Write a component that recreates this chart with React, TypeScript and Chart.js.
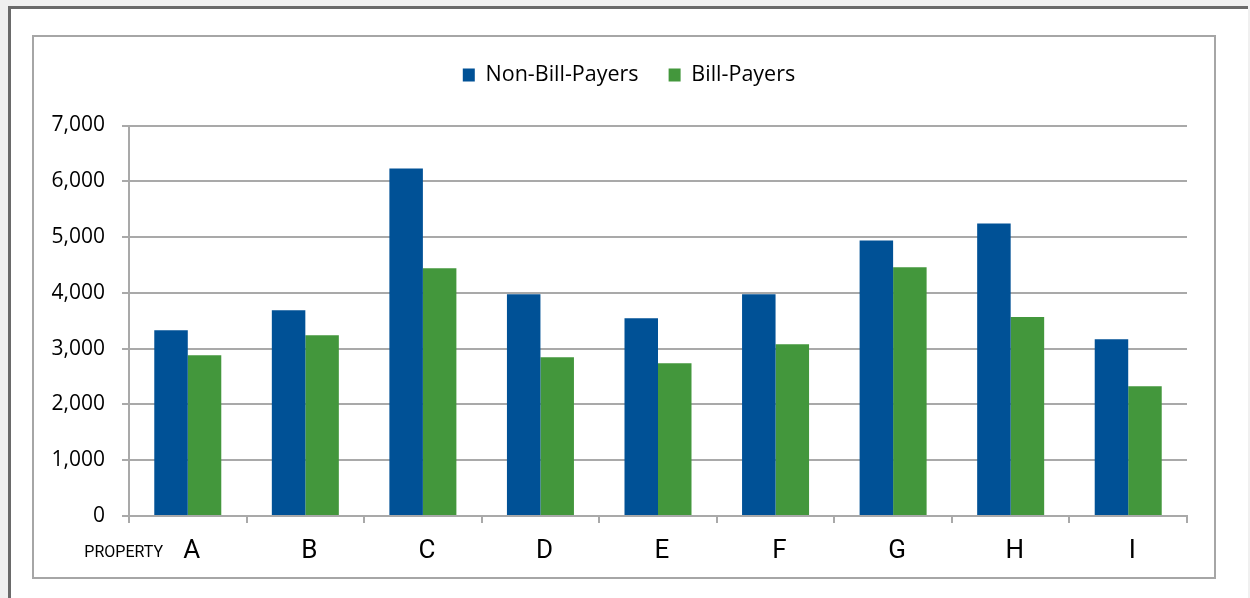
import { useEffect, useRef } from 'react';
import { Chart, registerables } from 'chart.js';

Chart.register(...registerables);

const categories = ['A', 'B', 'C', 'D', 'E', 'F', 'G', 'H', 'I'];
const nonBillPayers = [3330, 3690, 6230, 3975, 3545, 3975, 4940, 5245, 3170];
const billPayers = [2880, 3240, 4440, 2845, 2740, 3080, 4460, 3565, 2325];
const seriesNames = ['Non-Bill-Payers', 'Bill-Payers'];
const seriesColors = ['#005196', '#43973c'];
const yMin = 0;
const yMax = 7000;
const yStep = 1000;
const axisTitle = 'PROPERTY';

const GRID = '#a9a9a9';
const LEGEND_CX = 629;
const LEGEND_CY = 75;

const legendPlace = {
  id: 'legendPlace',
  afterLayout(chart: any) {
    const lg = chart.legend;
    if (!lg) return;
    const dx = LEGEND_CX - (lg.left + lg.right) / 2;
    lg.left += dx;
    lg.right += dx;
    const P = lg.options.labels.padding;
    const fs = lg.options.labels.font.size;
    const dy = LEGEND_CY - (lg.top + P + fs / 2);
    lg.top += dy;
    lg.bottom += dy;
  },
};

const propertyLabel = {
  id: 'propertyLabel',
  afterDraw(chart: any) {
    const xs = chart.scales.x;
    const ctx = chart.ctx;
    ctx.save();
    ctx.font = '16px Roboto';
    ctx.fillStyle = '#000';
    ctx.textAlign = 'right';
    ctx.textBaseline = 'middle';
    ctx.fillText(axisTitle, xs.left + 34, xs.top + 37);
    ctx.restore();
  },
};

export default function App() {
  const ref = useRef<HTMLCanvasElement>(null);

  useEffect(() => {
    if (!ref.current) return;
    const chart = new Chart(ref.current, {
      type: 'bar',
      data: {
        labels: categories,
        datasets: [
          { label: seriesNames[0], data: nonBillPayers, backgroundColor: seriesColors[0], borderWidth: 0 },
          { label: seriesNames[1], data: billPayers, backgroundColor: seriesColors[1], borderWidth: 0 },
        ],
      },
      options: {
        responsive: false,
        animation: false,
        devicePixelRatio: 1,
        layout: { padding: { left: 32, right: 63, top: 64, bottom: 32 } },
        datasets: { bar: { categoryPercentage: 0.57, barPercentage: 1 } },
        plugins: {
          legend: {
            position: 'top',
            labels: {
              boxWidth: 12,
              boxHeight: 13,
              padding: 30,
              color: '#000',
              font: { family: 'Open Sans', size: 21.5 },
            },
          },
          tooltip: { enabled: false },
        },
        scales: {
          x: {
            afterFit: (s: any) => { s.height = 50; },
            grid: { display: true, drawOnChartArea: false, drawTicks: true, tickLength: 7, color: GRID, lineWidth: 2 },
            border: { display: true, color: GRID, width: 2 },
            ticks: { color: '#000', padding: 13, labelOffset: 4, font: { family: 'Roboto', size: 26 } },
          },
          y: {
            min: yMin,
            max: yMax,
            afterFit: (s: any) => { s.width = 97; },
            grid: { color: GRID, lineWidth: 2, tickLength: 7 },
            border: { display: true, color: GRID, width: 2 },
            ticks: {
              stepSize: yStep,
              color: '#000',
              padding: 17,
              font: { family: 'Open Sans', size: 21 },
              callback: (v: any) => Number(v).toLocaleString('en-US'),
            },
          },
        },
      },
      plugins: [legendPlace, propertyLabel],
    });
    return () => chart.destroy();
  }, []);

  return (
    <div style={{ position: 'fixed', left: 0, top: 0, width: 1250, height: 598, background: '#f0f0f0', overflow: 'hidden' }}>
      <div
        style={{
          position: 'absolute', left: 8, top: 6, width: 1240, height: 592,
          background: '#fff', borderTop: '3px solid #6a6a6a', borderLeft: '3px solid #6a6a6a', boxSizing: 'border-box',
        }}
      />
      <div
        style={{
          position: 'absolute', left: 32, top: 35, width: 1184, height: 544,
          border: '2px solid #a6a6a6', boxSizing: 'border-box',
        }}
      />
      <canvas ref={ref} width={1250} height={598} style={{ position: 'absolute', left: 0, top: 0 }} />
    </div>
  );
}
